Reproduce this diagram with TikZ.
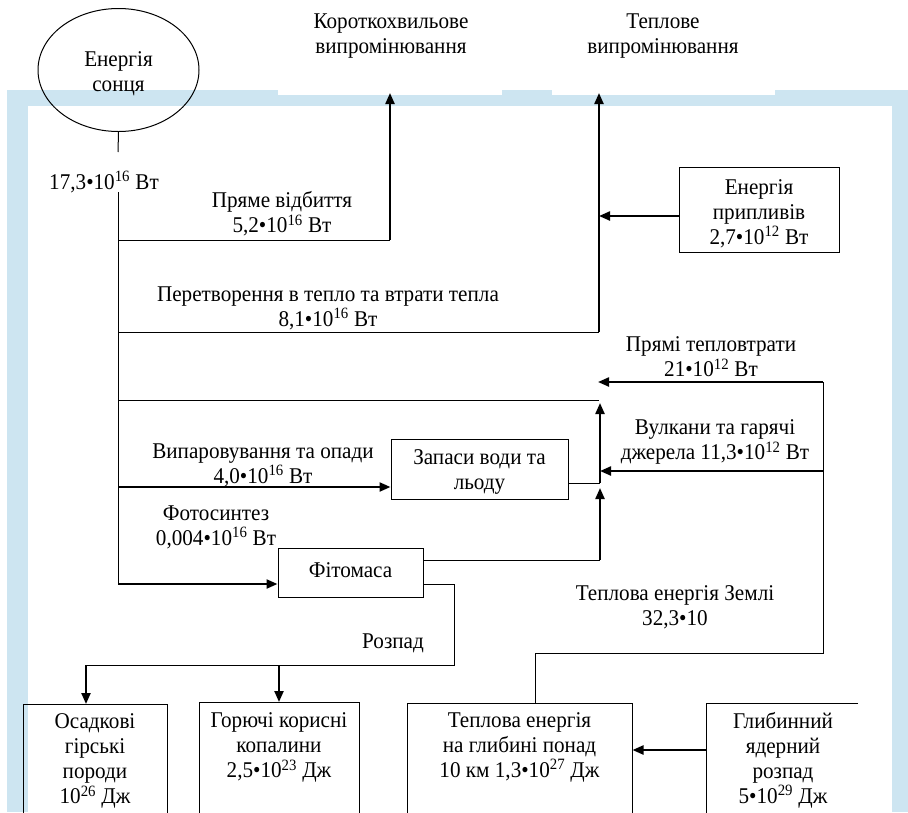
\documentclass[tikz,border=0pt]{standalone}
\usepackage{fontspec}
\setmainfont{Liberation Serif}[FakeStretch=0.94]
\usetikzlibrary{shapes.geometric,arrows.meta}
\definecolor{wmblue}{HTML}{CDE5F1}
\begin{document}
\begin{tikzpicture}[x=1pt,y=-1pt,
  lbl/.style={align=center,font=\fontsize{22.5}{25}\selectfont,inner sep=0pt},
  boxn/.style={draw,line width=1pt,inner sep=0pt},
  ln/.style={line width=1pt},
  thk/.style={line width=2.2pt,-{Triangle[length=11pt,width=9pt]}}]
\clip (0,0) rectangle (908,812);
% background frame (watermark band)
\fill[wmblue] (7,90) rectangle (908,812);
\fill[white] (28,106) rectangle (892,812);
\fill[white] (278,85) rectangle (502,95);
\fill[white] (552,85) rectangle (775,95);

% sun
\node[ellipse,draw,line width=1pt,minimum width=161pt,minimum height=123pt] (sun) at (118.5,70) {};
\node[lbl] (suntext) at (118.5,74) {Енергія\\сонця};
\node[lbl] (sunval) at (104,182) {17,3•10\textsuperscript{16} Вт};
\coordinate (s1) at (118,152);
\coordinate (s2) at (118,192);
\coordinate (j1) at (118,240);
\coordinate (j2) at (118,332);
\coordinate (j3) at (118,400);
\coordinate (j4) at (118,487);
\coordinate (j5) at (118,584);
\draw[ln] (sun.south) -- (s1);
\draw[ln] (s2) -- (j5);

% top outputs
\node[lbl] (sw) at (391,36) {Короткохвильове\\випромінювання};
\node[lbl] (th) at (663,36) {Теплове\\випромінювання};

% direct reflection
\coordinate (k1) at (390,240);
\coordinate (t1) at (390,93);
\draw[ln] (j1) -- (k1);
\draw[thk] (k1) -- (t1);
\node[lbl] (lpr) at (282,214) {Пряме відбиття\\5,2•10\textsuperscript{16} Вт};

% heat conversion
\coordinate (k2) at (599,332);
\coordinate (t2) at (599,93);
\draw[ln] (j2) -- (k2);
\draw[thk] (k2) -- (t2);
\node[lbl] (lheat) at (328,308) {Перетворення в тепло та втрати тепла\\8,1•10\textsuperscript{16} Вт};

% tides
\node[boxn,minimum width=160pt,minimum height=85pt] (tides) at (759,209.5) {};
\node[lbl] (tidest) at (759,213.5) {Енергія\\припливів\\2,7•10\textsuperscript{12} Вт};
\coordinate (m2) at (599,216);
\draw[thk] (tides.west |- m2) -- (m2);

% third line
\coordinate (k3) at (599,400);
\draw[ln] (j3) -- (k3);

% water
\node[boxn,minimum width=177pt,minimum height=60pt] (water) at (479.5,469) {};
\node[lbl] (watert) at (479.5,472) {Запаси води та\\льоду};
\draw[thk] (j4) -- (water.west |- j4);
\node[lbl] (levap) at (263,465) {Випаровування та опади\\4,0•10\textsuperscript{16} Вт};
\coordinate (w1) at (600,483);
\coordinate (w2) at (600,403);
\draw[ln] (water.east |- w1) -- (w1);
\draw[thk] (w1) -- (w2);

% earth heat flows
\coordinate (r1) at (823,382);
\coordinate (r2) at (823,471);
\coordinate (r3) at (823,653);
\coordinate (q1) at (598,382);
\coordinate (q2) at (600,471);
\coordinate (d1) at (535,653);
\draw[thk] (r1) -- (q1);
\draw[thk] (r2) -- (q2);
\node[lbl] (ldirect) at (711,357) {Прямі тепловтрати\\21•10\textsuperscript{12} Вт};
\node[lbl] (lvolc) at (715,442) {Вулкани та гарячі\\джерела 11,3•10\textsuperscript{12} Вт};
\node[lbl] (learth) at (675,607) {Теплова енергія Землі\\32,3•10};

% phytomass
\node[boxn,minimum width=145pt,minimum height=49pt] (phyto) at (350.5,572.5) {};
\node[lbl] (phytot) at (350.5,570) {Фітомаса};
\draw[thk] (j5) -- (phyto.west |- j5);
\node[lbl] (lphoto) at (216,527) {Фотосинтез\\0,004•10\textsuperscript{16} Вт};
\coordinate (f1) at (600,560);
\coordinate (f2) at (600,488);
\draw[ln] (phyto.east |- f1) -- (f1);
\draw[thk] (f1) -- (f2);

% bottom boxes
\node[boxn,minimum width=144pt,minimum height=140pt,anchor=north] (osad) at (95,704) {};
\node[lbl] (osadt) at (95,761) {Осадкові\\гірські\\породи\\10\textsuperscript{26} Дж};
\node[boxn,minimum width=160pt,minimum height=140pt,anchor=north] (fuel) at (279,702) {};
\node[lbl] (fuelt) at (279,747.5) {Горючі корисні\\копалини\\2,5•10\textsuperscript{23} Дж};
\node[boxn,minimum width=225pt,minimum height=140pt,anchor=north] (deep) at (519.5,703) {};
\node[lbl] (deept) at (519.5,747) {Теплова енергія\\на глибині понад\\10 км 1,3•10\textsuperscript{27} Дж};
\node[lbl] (nuclt) at (783,760) {Глибинний\\ядерний\\розпад\\5•10\textsuperscript{29} Дж};
\coordinate (nb1) at (858,703);
\coordinate (nb2) at (706,703);
\coordinate (nb3) at (706,840);
\draw[ln] (nb1) -- (nb2) -- (nb3);
\coordinate (n1) at (706,750);
\draw[thk] (n1) -- (deep.east |- n1);

% decay
\coordinate (g1) at (454,584);
\coordinate (g2) at (454,665);
\coordinate (g3) at (86,665);
\coordinate (g4) at (279,665);
\draw[ln] (phyto.east |- g1) -- (g1) -- (g2) -- (g3);
\draw[thk] (g3) -- (osad.north -| g3);
\draw[thk] (g4) -- (fuel.north -| g4);
\node[lbl] (ldecay) at (393,643) {Розпад};

% link to deep heat
\draw[ln] (r1) -- (r3) -- (d1) -- (deep.north -| d1);
\end{tikzpicture}
\end{document}
